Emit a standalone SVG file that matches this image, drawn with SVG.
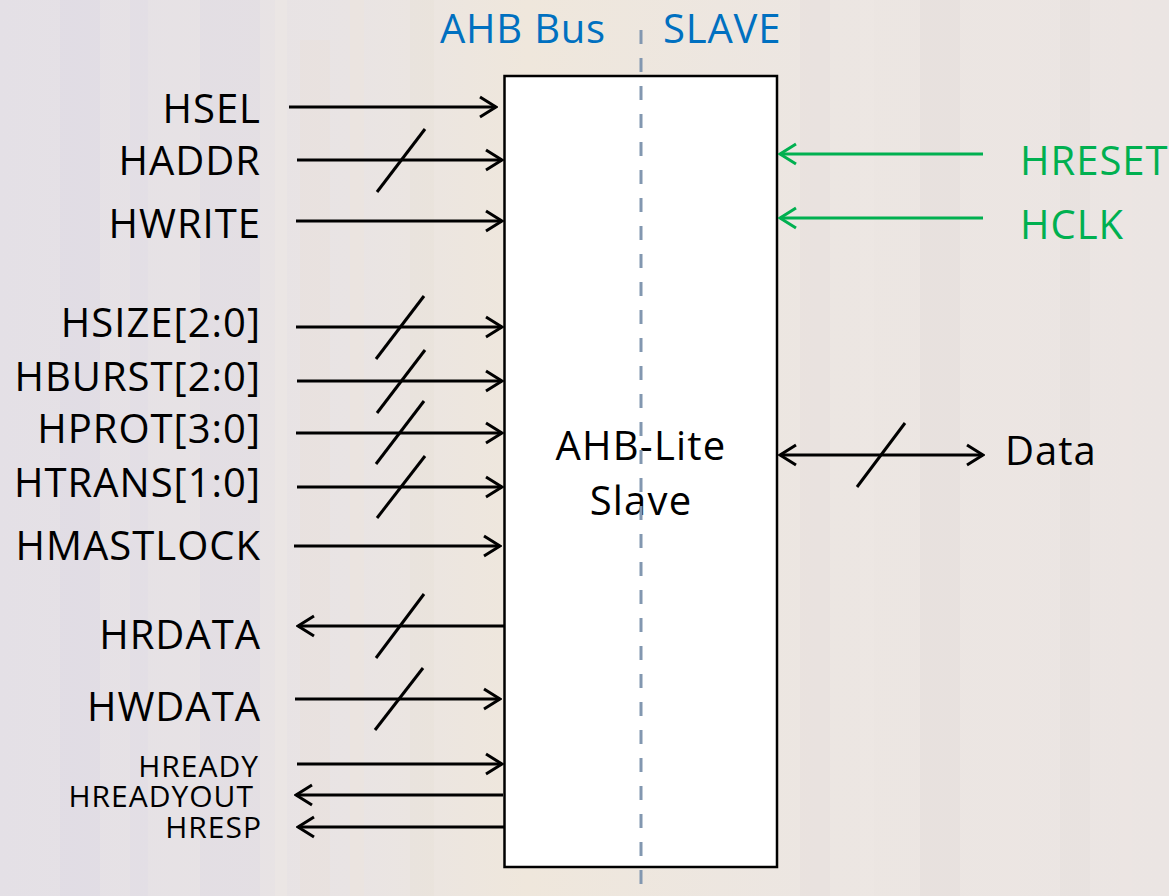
<svg xmlns="http://www.w3.org/2000/svg" width="1169" height="896" viewBox="0 0 1169 896">
<defs>
<marker id="ahk" viewBox="0 0 20 24" refX="18" refY="12" markerWidth="20" markerHeight="24" markerUnits="userSpaceOnUse" orient="auto-start-reverse">
<path d="M2,2 L18,12 L2,22" fill="none" stroke="#000" stroke-width="3"/>
</marker>
<marker id="ahg" viewBox="0 0 20 24" refX="18" refY="12" markerWidth="20" markerHeight="24" markerUnits="userSpaceOnUse" orient="auto-start-reverse">
<path d="M2,2 L18,12 L2,22" fill="none" stroke="#00B050" stroke-width="3"/>
</marker>
<linearGradient id="bg" x1="0" y1="0" x2="1" y2="0">
<stop offset="0" stop-color="#e4e0e6"/>
<stop offset="0.3" stop-color="#e9e4e4"/>
<stop offset="0.45" stop-color="#efe7dc"/>
<stop offset="0.7" stop-color="#ece6e2"/>
<stop offset="1" stop-color="#ebe5e3"/>
</linearGradient>
</defs>
<style>
.lbl{font-family:"Open Sans","Liberation Sans",sans-serif;font-size:40px;letter-spacing:1px;fill:#000;text-anchor:end}
.sm{font-family:"Open Sans","Liberation Sans",sans-serif;font-size:30px;letter-spacing:1px;fill:#000;text-anchor:end}
.blue{font-family:"Open Sans","Liberation Sans",sans-serif;font-size:40px;letter-spacing:0.8px;fill:#0070C0}
.grn{font-family:"Open Sans","Liberation Sans",sans-serif;font-size:40px;letter-spacing:1px;fill:#00B050}
.ctr{font-family:"Open Sans","Liberation Sans",sans-serif;font-size:40px;letter-spacing:1.2px;fill:#000;text-anchor:middle}
.w{stroke:#000;stroke-width:3;fill:none;marker-end:url(#ahk)}
.g{stroke:#00B050;stroke-width:3;fill:none;marker-end:url(#ahg)}
.sl{stroke:#000;stroke-width:3}
</style>
<g id="background">
<rect width="1169" height="896" fill="url(#bg)"/>
<g opacity="0.25">
<rect x="60" y="0" width="40" height="896" fill="#d8d4e4"/>
<rect x="130" y="0" width="18" height="896" fill="#ded8e6"/>
<rect x="200" y="0" width="60" height="896" fill="#d9d5e2"/>
<rect x="275" y="0" width="12" height="896" fill="#f4efe6"/>
<rect x="300" y="40" width="30" height="856" fill="#e9dfd2"/>
<rect x="350" y="0" width="14" height="896" fill="#f1e7d8"/>
<rect x="410" y="0" width="24" height="896" fill="#e6e0d4"/>
<rect x="800" y="0" width="30" height="896" fill="#e2dad8"/>
<rect x="860" y="0" width="14" height="896" fill="#f2ece8"/>
<rect x="920" y="0" width="40" height="896" fill="#ddd6d6"/>
<rect x="1000" y="0" width="20" height="896" fill="#efe7e3"/>
<rect x="1060" y="0" width="30" height="896" fill="#e3dbd9"/>
<rect x="1120" y="0" width="12" height="896" fill="#efe5e3"/>
</g>
</g>
<g id="headers">
<text class="blue" x="606" y="43" text-anchor="end">AHB Bus</text>
<text class="blue" x="663" y="43">SLAVE</text>
</g>
<g id="slave">
<rect x="504.5" y="76" width="272.5" height="791" fill="#fff" stroke="#000" stroke-width="2.5"/>
<text class="ctr" x="641" y="460">AHB-Lite</text>
<text class="ctr" x="641" y="515">Slave</text>
</g>
<g id="divider">
<line x1="641" y1="30" x2="641" y2="886" stroke="#8297b0" stroke-width="3" stroke-dasharray="14 14"/>
</g>
<g id="connectors">
<line class="w" x1="289" y1="107" x2="496" y2="107"/>
<line class="w" x1="297" y1="160" x2="502" y2="160"/>
<line class="sl" x1="377" y1="192" x2="425" y2="129"/>
<line class="w" x1="296" y1="221" x2="502" y2="221"/>
<line class="w" x1="296" y1="327" x2="502" y2="327"/>
<line class="sl" x1="376" y1="359" x2="424" y2="296"/>
<line class="w" x1="297" y1="381" x2="502" y2="381"/>
<line class="sl" x1="377" y1="413" x2="425" y2="350"/>
<line class="w" x1="296" y1="433" x2="502" y2="433"/>
<line class="sl" x1="376" y1="464" x2="424" y2="401"/>
<line class="w" x1="297" y1="487" x2="502" y2="487"/>
<line class="sl" x1="377" y1="518" x2="425" y2="456"/>
<line class="w" x1="294" y1="546" x2="500" y2="546"/>
<line class="w" x1="504" y1="626" x2="298" y2="626"/>
<line class="sl" x1="376" y1="658" x2="424" y2="594"/>
<line class="w" x1="295" y1="699" x2="500" y2="699"/>
<line class="sl" x1="375" y1="730" x2="423" y2="668"/>
<line class="w" x1="297" y1="764" x2="502" y2="764"/>
<line class="w" x1="503" y1="795" x2="296" y2="795"/>
<line class="w" x1="504" y1="827" x2="298" y2="827"/>
<line class="g" x1="983" y1="154" x2="780" y2="154"/>
<line class="g" x1="983" y1="218" x2="780" y2="218"/>
<line class="w" x1="780" y1="455" x2="983" y2="455" style="marker-start:url(#ahk)"/>
<line class="sl" x1="857" y1="487" x2="905" y2="423"/>
</g>
<g id="labels">
<text class="lbl" x="261" y="123">HSEL</text>
<text class="lbl" x="261" y="175">HADDR</text>
<text class="lbl" x="261" y="238">HWRITE</text>
<text class="lbl" x="261" y="337">HSIZE[2:0]</text>
<text class="lbl" x="261" y="391">HBURST[2:0]</text>
<text class="lbl" x="261" y="443">HPROT[3:0]</text>
<text class="lbl" x="261" y="497">HTRANS[1:0]</text>
<text class="lbl" x="261" y="560">HMASTLOCK</text>
<text class="lbl" x="261" y="649">HRDATA</text>
<text class="lbl" x="261" y="721">HWDATA</text>
<text class="sm" x="259" y="777">HREADY</text>
<text class="sm" x="254" y="807">HREADYOUT</text>
<text class="sm" x="262" y="838">HRESP</text>
<text class="grn" x="1020" y="175">HRESET</text>
<text class="grn" x="1020" y="239">HCLK</text>
<text class="lbl" x="1005" y="465" style="text-anchor:start">Data</text>
</g>
</svg>
